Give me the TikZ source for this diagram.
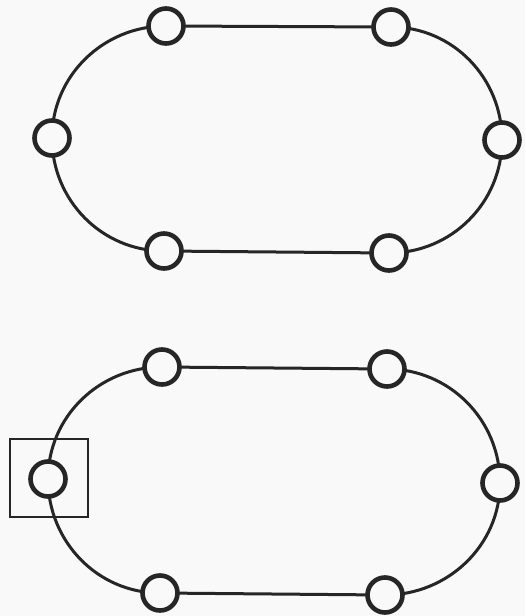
\documentclass[tikz,border=0pt]{standalone}
\begin{document}
\begin{tikzpicture}[x=1pt,y=-1pt,
  track/.style={draw=black!85,line width=3pt,line cap=round},
  station/.style={circle,draw=black!85,fill=white!95!gray,line width=4.6pt,minimum size=35pt,inner sep=0pt},
  frame/.style={draw=black!85,line width=2.8pt}]
\fill[white!95!gray] (0,0) rectangle (525,616);
\useasboundingbox (0,0) rectangle (525,616);
% top track
\coordinate (atl) at (166,26);
\coordinate (atr) at (391,27);
\coordinate (ar) at (502,140);
\coordinate (abr) at (389,253);
\coordinate (abl) at (164,251);
\coordinate (al) at (52,138);
\draw[track] (atl) -- (atr) to[out=0,in=90] (ar) to[out=-90,in=0] (abr) -- (abl) to[out=180,in=-90] (al) to[out=90,in=180] (atl);
\foreach \p in {atl,atr,ar,abr,abl,al} \node[station] (n\p) at (\p) {};
% bottom track
\coordinate (btl) at (162,367);
\coordinate (btr) at (387,369);
\coordinate (br) at (500,483);
\coordinate (bbr) at (385,595);
\coordinate (bbl) at (160,593);
\coordinate (bl) at (48,479);
\draw[track] (btl) -- (btr) to[out=0,in=90] (br) to[out=-90,in=0] (bbr) -- (bbl) to[out=180,in=-90] (bl) to[out=90,in=180] (btl);
\node[frame,minimum size=78pt,inner sep=0pt] (box) at (49,478) {};
\foreach \p in {btl,btr,br,bbr,bbl,bl} \node[station] (n\p) at (\p) {};
\end{tikzpicture}
\end{document}
